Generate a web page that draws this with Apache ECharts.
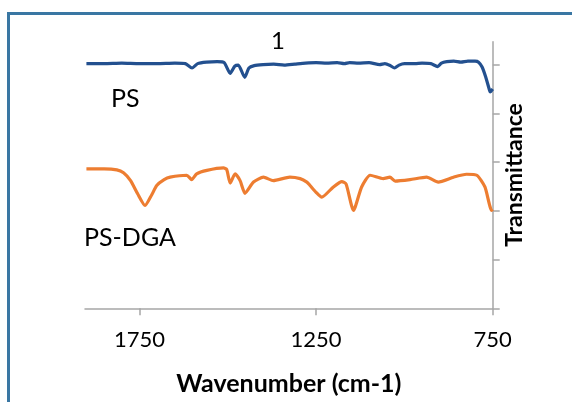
<!DOCTYPE html>
<html>
<head>
<meta charset="utf-8">
<script src="https://cdn.jsdelivr.net/npm/echarts@6/dist/echarts.min.js"></script>
<style>
  html, body { margin: 0; padding: 0; background: #fff; }
  #contain { width: 572px; height: 402px; }
</style>
</head>
<body>
<div id="contain"></div>
<script>
// PS spectrum (wavenumber cm-1, transmittance in arbitrary offset units)
var psWavenumber = [1900, 1850, 1800, 1750, 1700, 1650, 1620, 1601, 1585, 1560, 1530, 1510, 1493, 1480, 1470, 1452, 1440, 1425, 1400, 1370, 1340, 1310, 1280, 1250, 1220, 1190, 1170, 1155, 1130, 1100, 1070, 1055, 1040, 1028, 1015, 1000, 970, 950, 925, 906, 895, 880, 860, 840, 820, 800, 790, 780, 770, 760, 757, 750];
var psValue = [5.02, 5.02, 5.03, 5.02, 5.02, 5.03, 5.02, 4.93, 5.02, 5.05, 5.06, 5.04, 4.82, 4.97, 4.99, 4.74, 4.93, 4.98, 5.00, 5.01, 4.99, 5.01, 5.03, 5.04, 5.03, 5.04, 5.02, 5.04, 5.03, 5.04, 5.00, 5.02, 4.98, 4.93, 4.99, 5.02, 5.02, 5.03, 5.02, 4.96, 5.03, 5.06, 5.07, 5.05, 5.07, 5.07, 5.05, 4.95, 4.75, 4.50, 4.44, 4.50];

// PS-DGA spectrum
var dgaWavenumber = [1900, 1850, 1814, 1795, 1775, 1755, 1734, 1715, 1701, 1680, 1663, 1616, 1602, 1588, 1559, 1512, 1503, 1493, 1479, 1465, 1451, 1427, 1399, 1371, 1324, 1295, 1276, 1267, 1250, 1234, 1201, 1177, 1165, 1144, 1121, 1097, 1060, 1041, 1026, 984, 937, 904, 861, 824, 795, 772, 753, 750];
var dgaValue = [2.86, 2.86, 2.84, 2.78, 2.62, 2.35, 2.11, 2.33, 2.52, 2.64, 2.69, 2.73, 2.64, 2.76, 2.83, 2.88, 2.85, 2.57, 2.76, 2.62, 2.36, 2.59, 2.69, 2.62, 2.69, 2.66, 2.59, 2.52, 2.38, 2.28, 2.49, 2.60, 2.55, 2.01, 2.49, 2.73, 2.66, 2.69, 2.61, 2.64, 2.69, 2.59, 2.69, 2.75, 2.73, 2.49, 2.01, 2.03];

var xTicks = [750, 1250, 1750];
var yTicks = [0, 1, 2, 3, 4, 5];

function pairs(xs, ys) {
    var out = [];
    for (var i = 0; i < xs.length; i++) {
        out.push([xs[i], ys[i]]);
    }
    return out;
}

var chart = echarts.init(document.getElementById('contain'));
var font = 'Lato, "Open Sans", sans-serif';

var option = {
    animation: false,
    title: {
        text: '1',
        left: 266,
        top: 24,
        textStyle: { fontFamily: font, fontSize: 24, fontWeight: 'normal', color: '#000' }
    },
    graphic: [
        {
            type: 'rect',
            shape: { x: 8.5, y: 13.5, width: 700, height: 500 },
            style: { fill: 'none', stroke: '#3a77a3', lineWidth: 3 },
            silent: true
        },
        {
            type: 'text', left: 111, top: 86,
            style: { text: 'PS', fontFamily: font, fontSize: 25, fill: '#000' }
        },
        {
            type: 'text', left: 84, top: 225,
            style: { text: 'PS-DGA', fontFamily: font, fontSize: 25, fill: '#000' }
        }
    ],
    grid: { left: 85, right: 79.3, top: 41.7, bottom: 93.7 },
    xAxis: {
        type: 'value',
        inverse: true,
        min: 750,
        max: 1904,
        interval: 500,
        name: 'Wavenumber (cm-1)',
        nameLocation: 'middle',
        nameGap: 63,
        nameTextStyle: { fontFamily: font, fontSize: 25, fontWeight: 'bold', color: '#000' },
        axisLine: { lineStyle: { color: '#a6a6a6', width: 1.5 } },
        axisTick: { inside: false, length: 7, customValues: xTicks, lineStyle: { color: '#a6a6a6', width: 1.5 } },
        axisLabel: {
            customValues: xTicks,
            margin: 21,
            fontFamily: font,
            fontSize: 22,
            color: '#000',
            formatter: function (v) { return String(v); }
        },
        splitLine: { show: false }
    },
    yAxis: {
        type: 'value',
        position: 'right',
        min: 0,
        max: 5.47,
        interval: 1,
        name: 'Transmittance',
        nameLocation: 'middle',
        nameRotate: 90,
        nameGap: 10,
        nameTextStyle: { fontFamily: font, fontSize: 23, fontWeight: 'bold', color: '#000' },
        axisLine: { show: true, onZero: false, lineStyle: { color: '#a6a6a6', width: 1.5 } },
        axisTick: { show: true, inside: false, length: 7, customValues: yTicks, lineStyle: { color: '#a6a6a6', width: 1.5 } },
        axisLabel: { show: false },
        splitLine: { show: false }
    },
    series: [
        {
            name: 'PS',
            type: 'line',
            data: pairs(psWavenumber, psValue),
            showSymbol: false,
            smooth: 0.2,
            lineStyle: { color: '#23508f', width: 3.2 }
        },
        {
            name: 'PS-DGA',
            type: 'line',
            data: pairs(dgaWavenumber, dgaValue),
            showSymbol: false,
            smooth: 0.2,
            lineStyle: { color: '#ed7d31', width: 3.2 }
        }
    ]
};
chart.setOption(option);
</script>
</body>
</html>
